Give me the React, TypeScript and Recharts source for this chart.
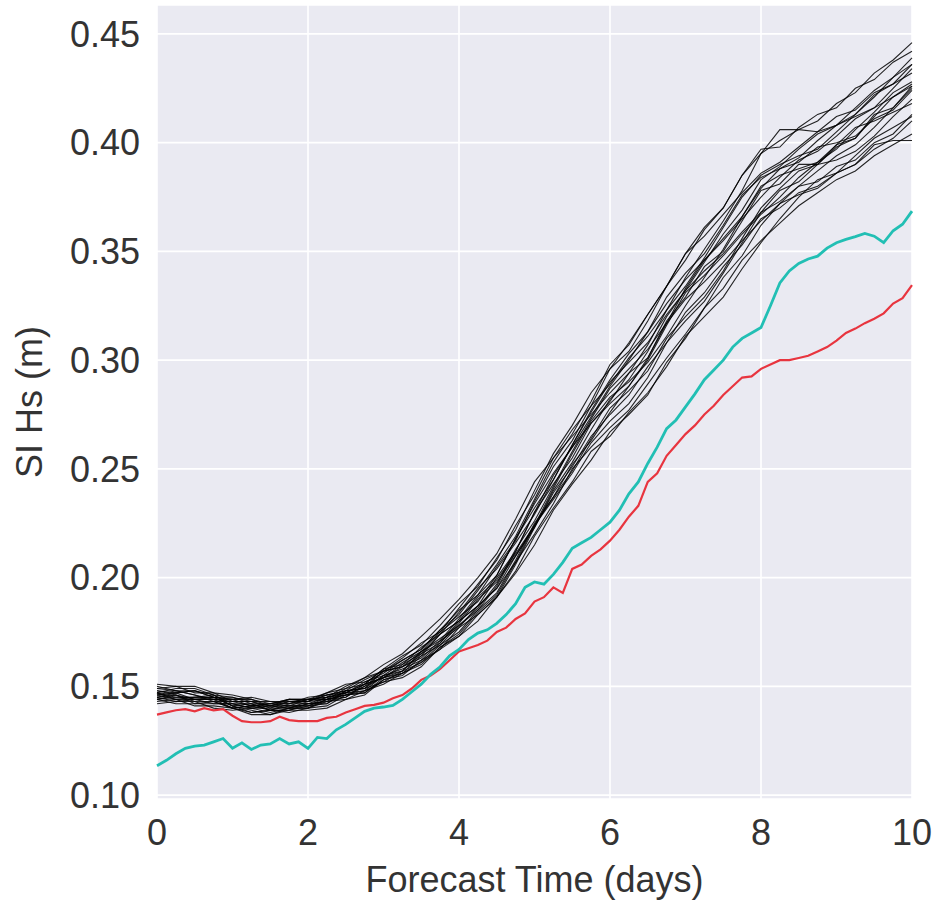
import { CartesianGrid, Line, LineChart, XAxis, YAxis } from "recharts";

// Forecast skill (SI of Hs) vs lead time: ensemble members (black) + two reference runs.

const W = 936;
const H = 902;
const FONT = '"Liberation Sans", Arial, sans-serif';
const INK = "#333333";

const xTicks = [0, 2, 4, 6, 8, 10];
const yTicks = [0.1, 0.15, 0.2, 0.25, 0.3, 0.35, 0.4, 0.45];

// 3-hourly lead times (step 0.125 day)
const redRun = [
	0.137, 0.138, 0.139, 0.1395, 0.1385, 0.14, 0.139, 0.1395, 0.1365, 0.134,
	0.1335, 0.1335, 0.134, 0.136, 0.1345, 0.134, 0.134, 0.134, 0.1355, 0.136,
	0.138, 0.1395, 0.141, 0.1415, 0.1425, 0.1445, 0.146, 0.149, 0.153, 0.155,
	0.158, 0.162, 0.166, 0.1675, 0.169, 0.171, 0.175, 0.177, 0.181, 0.1835,
	0.189, 0.191, 0.1955, 0.193, 0.204, 0.206, 0.21, 0.213, 0.217, 0.222,
	0.228, 0.233, 0.244, 0.248, 0.256, 0.261, 0.266, 0.27, 0.275, 0.279,
	0.284, 0.288, 0.292, 0.2925, 0.296, 0.298, 0.3, 0.3, 0.301, 0.302,
	0.304, 0.306, 0.309, 0.3125, 0.3145, 0.317, 0.319, 0.3215, 0.326, 0.3285,
	0.3345,
];

const cyanRun = [
	0.1135, 0.116, 0.119, 0.1215, 0.1225, 0.123, 0.1245, 0.126, 0.1215, 0.124,
	0.121, 0.123, 0.1235, 0.126, 0.1235, 0.1245, 0.1215, 0.1265, 0.126, 0.13,
	0.1325, 0.1355, 0.1385, 0.14, 0.1405, 0.1412, 0.144, 0.1475, 0.151, 0.1555,
	0.159, 0.164, 0.167, 0.1715, 0.1745, 0.176, 0.179, 0.183, 0.188, 0.1955,
	0.198, 0.197, 0.2015, 0.207, 0.2135, 0.216, 0.2185, 0.222, 0.2255, 0.231,
	0.2385, 0.244, 0.2525, 0.26, 0.2685, 0.2725, 0.2785, 0.2845, 0.291, 0.2955,
	0.3, 0.306, 0.31, 0.3125, 0.315, 0.325, 0.3355, 0.341, 0.3445, 0.3465,
	0.3478, 0.3515, 0.354, 0.3555, 0.3568, 0.3583, 0.357, 0.354, 0.3595, 0.3625,
	0.3685,
];

// ensemble members, 6-hourly lead times (step 0.25 day)
const m01 = [0.149, 0.150, 0.147, 0.147, 0.143, 0.143, 0.143, 0.143, 0.143, 0.146, 0.148, 0.153, 0.157, 0.162, 0.167, 0.176, 0.185, 0.192, 0.205, 0.217, 0.235, 0.251, 0.263, 0.279, 0.296, 0.304, 0.318, 0.334, 0.346, 0.360, 0.370, 0.385, 0.395, 0.401, 0.406, 0.410, 0.418, 0.423, 0.432, 0.438, 0.446];
const m02 = [0.143, 0.144, 0.141, 0.141, 0.140, 0.137, 0.137, 0.139, 0.139, 0.140, 0.144, 0.148, 0.151, 0.156, 0.160, 0.168, 0.174, 0.184, 0.192, 0.207, 0.220, 0.234, 0.250, 0.260, 0.269, 0.277, 0.289, 0.301, 0.312, 0.324, 0.333, 0.346, 0.355, 0.363, 0.371, 0.377, 0.383, 0.387, 0.394, 0.399, 0.404];
const m03 = [0.151, 0.150, 0.150, 0.147, 0.146, 0.144, 0.142, 0.144, 0.144, 0.145, 0.147, 0.151, 0.154, 0.159, 0.163, 0.171, 0.177, 0.187, 0.195, 0.210, 0.223, 0.239, 0.251, 0.265, 0.275, 0.284, 0.297, 0.308, 0.322, 0.331, 0.343, 0.353, 0.365, 0.370, 0.377, 0.380, 0.386, 0.390, 0.397, 0.402, 0.410];
const m04 = [0.142, 0.143, 0.143, 0.140, 0.139, 0.140, 0.138, 0.140, 0.142, 0.145, 0.147, 0.152, 0.156, 0.162, 0.167, 0.176, 0.183, 0.194, 0.206, 0.219, 0.236, 0.253, 0.266, 0.281, 0.298, 0.307, 0.321, 0.334, 0.349, 0.361, 0.370, 0.385, 0.397, 0.398, 0.407, 0.413, 0.416, 0.425, 0.429, 0.437, 0.442];
const m05 = [0.147, 0.145, 0.145, 0.146, 0.141, 0.142, 0.139, 0.142, 0.142, 0.142, 0.148, 0.149, 0.157, 0.159, 0.164, 0.174, 0.180, 0.187, 0.200, 0.212, 0.230, 0.243, 0.255, 0.271, 0.281, 0.294, 0.301, 0.318, 0.329, 0.343, 0.350, 0.364, 0.378, 0.381, 0.390, 0.390, 0.399, 0.402, 0.413, 0.416, 0.425];
const m06 = [0.148, 0.147, 0.148, 0.146, 0.142, 0.140, 0.141, 0.141, 0.141, 0.145, 0.150, 0.154, 0.160, 0.165, 0.173, 0.181, 0.190, 0.200, 0.211, 0.227, 0.244, 0.255, 0.265, 0.275, 0.285, 0.294, 0.307, 0.323, 0.338, 0.351, 0.364, 0.378, 0.395, 0.406, 0.406, 0.405, 0.408, 0.412, 0.416, 0.421, 0.426];
const m07 = [0.145, 0.146, 0.143, 0.143, 0.143, 0.141, 0.142, 0.142, 0.145, 0.146, 0.147, 0.148, 0.152, 0.157, 0.161, 0.167, 0.177, 0.183, 0.191, 0.206, 0.223, 0.240, 0.253, 0.268, 0.282, 0.291, 0.304, 0.320, 0.332, 0.345, 0.358, 0.369, 0.383, 0.389, 0.397, 0.404, 0.408, 0.416, 0.424, 0.430, 0.439];
const m08 = [0.146, 0.148, 0.146, 0.143, 0.140, 0.141, 0.139, 0.138, 0.140, 0.143, 0.144, 0.146, 0.153, 0.155, 0.162, 0.167, 0.173, 0.183, 0.191, 0.203, 0.219, 0.232, 0.244, 0.258, 0.265, 0.276, 0.285, 0.297, 0.311, 0.320, 0.329, 0.342, 0.354, 0.365, 0.375, 0.383, 0.386, 0.390, 0.399, 0.401, 0.401];
const m09 = [0.149, 0.148, 0.146, 0.144, 0.144, 0.144, 0.141, 0.143, 0.142, 0.143, 0.145, 0.150, 0.154, 0.160, 0.168, 0.174, 0.184, 0.195, 0.204, 0.216, 0.229, 0.245, 0.261, 0.276, 0.290, 0.299, 0.308, 0.321, 0.332, 0.341, 0.349, 0.359, 0.368, 0.373, 0.380, 0.387, 0.394, 0.399, 0.407, 0.416, 0.426];
const m10 = [0.144, 0.142, 0.142, 0.143, 0.140, 0.138, 0.139, 0.139, 0.141, 0.144, 0.149, 0.151, 0.158, 0.160, 0.165, 0.170, 0.179, 0.190, 0.198, 0.210, 0.224, 0.241, 0.257, 0.272, 0.283, 0.290, 0.299, 0.311, 0.325, 0.338, 0.351, 0.366, 0.379, 0.388, 0.393, 0.401, 0.408, 0.413, 0.421, 0.430, 0.436];
const m11 = [0.147, 0.149, 0.149, 0.146, 0.145, 0.143, 0.140, 0.140, 0.143, 0.146, 0.148, 0.149, 0.155, 0.157, 0.166, 0.172, 0.178, 0.185, 0.196, 0.212, 0.230, 0.247, 0.260, 0.271, 0.280, 0.288, 0.300, 0.316, 0.331, 0.339, 0.348, 0.358, 0.367, 0.375, 0.384, 0.391, 0.399, 0.407, 0.410, 0.414, 0.418];
const m12 = [0.144, 0.145, 0.145, 0.145, 0.141, 0.139, 0.137, 0.140, 0.140, 0.141, 0.146, 0.150, 0.157, 0.163, 0.170, 0.175, 0.182, 0.189, 0.201, 0.218, 0.234, 0.248, 0.260, 0.274, 0.288, 0.300, 0.313, 0.326, 0.337, 0.346, 0.355, 0.365, 0.375, 0.384, 0.392, 0.396, 0.403, 0.411, 0.416, 0.425, 0.434];
const m13 = [0.150, 0.148, 0.148, 0.145, 0.144, 0.145, 0.143, 0.142, 0.144, 0.147, 0.151, 0.152, 0.155, 0.158, 0.162, 0.170, 0.180, 0.191, 0.199, 0.211, 0.224, 0.237, 0.252, 0.263, 0.276, 0.288, 0.301, 0.317, 0.328, 0.336, 0.345, 0.355, 0.364, 0.372, 0.376, 0.379, 0.386, 0.394, 0.402, 0.407, 0.412];
const m14 = [0.146, 0.144, 0.144, 0.144, 0.143, 0.143, 0.141, 0.144, 0.144, 0.145, 0.146, 0.148, 0.155, 0.161, 0.166, 0.175, 0.186, 0.197, 0.208, 0.224, 0.238, 0.255, 0.268, 0.279, 0.289, 0.301, 0.311, 0.323, 0.334, 0.347, 0.361, 0.375, 0.385, 0.390, 0.394, 0.397, 0.405, 0.413, 0.422, 0.427, 0.432];
const m15 = [0.145, 0.147, 0.144, 0.142, 0.142, 0.140, 0.140, 0.143, 0.143, 0.144, 0.146, 0.147, 0.153, 0.156, 0.164, 0.169, 0.175, 0.185, 0.193, 0.208, 0.225, 0.237, 0.249, 0.264, 0.278, 0.286, 0.295, 0.310, 0.320, 0.329, 0.341, 0.356, 0.370, 0.379, 0.387, 0.390, 0.392, 0.396, 0.403, 0.412, 0.420];
const m16 = [0.148, 0.146, 0.144, 0.145, 0.145, 0.142, 0.142, 0.141, 0.141, 0.142, 0.147, 0.151, 0.154, 0.156, 0.161, 0.169, 0.178, 0.186, 0.197, 0.213, 0.226, 0.242, 0.258, 0.273, 0.287, 0.296, 0.305, 0.317, 0.333, 0.346, 0.356, 0.366, 0.380, 0.385, 0.388, 0.391, 0.397, 0.406, 0.414, 0.423, 0.428];
const m17 = [0.147, 0.144, 0.145, 0.145, 0.141, 0.138, 0.139, 0.141, 0.144, 0.144, 0.145, 0.151, 0.158, 0.164, 0.169, 0.178, 0.188, 0.196, 0.209, 0.222, 0.240, 0.257, 0.270, 0.285, 0.296, 0.308, 0.321, 0.334, 0.349, 0.357, 0.367, 0.377, 0.386, 0.391, 0.398, 0.405, 0.412, 0.415, 0.423, 0.427, 0.436];
const m18 = [0.144, 0.146, 0.142, 0.142, 0.142, 0.142, 0.139, 0.139, 0.142, 0.143, 0.148, 0.149, 0.152, 0.154, 0.159, 0.168, 0.173, 0.180, 0.191, 0.202, 0.215, 0.231, 0.243, 0.254, 0.267, 0.275, 0.284, 0.299, 0.310, 0.324, 0.338, 0.348, 0.362, 0.372, 0.380, 0.382, 0.389, 0.392, 0.400, 0.404, 0.413];
const m19 = [0.146, 0.147, 0.148, 0.145, 0.144, 0.141, 0.142, 0.144, 0.143, 0.147, 0.149, 0.154, 0.157, 0.159, 0.166, 0.171, 0.181, 0.192, 0.201, 0.218, 0.232, 0.245, 0.261, 0.277, 0.291, 0.303, 0.313, 0.329, 0.340, 0.349, 0.362, 0.376, 0.384, 0.388, 0.391, 0.398, 0.400, 0.403, 0.411, 0.415, 0.424];
const m20 = [0.145, 0.143, 0.144, 0.144, 0.140, 0.141, 0.141, 0.140, 0.140, 0.144, 0.146, 0.147, 0.154, 0.157, 0.165, 0.174, 0.180, 0.187, 0.195, 0.207, 0.224, 0.236, 0.248, 0.262, 0.272, 0.280, 0.292, 0.308, 0.318, 0.327, 0.340, 0.354, 0.368, 0.378, 0.382, 0.390, 0.398, 0.402, 0.412, 0.421, 0.427];

const members = [m01, m02, m03, m04, m05, m06, m07, m08, m09, m10, m11, m12, m13, m14, m15, m16, m17, m18, m19, m20];

const toSeries = (vals: number[], step: number) => vals.map((v, i) => ({ t: i * step, v }));

const tickStyle = { fontSize: 36, fill: INK, fontFamily: FONT };

function YLabel(props: any) {
	const vb = props.viewBox ?? { x: 0, y: 5, width: 157, height: 794 };
	const x = vb.x + 42;
	const y = vb.y + vb.height / 2;
	return (
		<text x={x} y={y} transform={`rotate(-90 ${x} ${y})`} textAnchor="middle" fontSize={36} fill={INK} fontFamily={FONT}>
			SI Hs (m)
		</text>
	);
}

export default function App() {
	return (
		<div style={{ position: "absolute", left: 0, top: 0, width: W, height: H, background: "#fff" }}>
			<LineChart width={W} height={H} margin={{ top: 5, right: 24, bottom: 0, left: 0 }}>
				<CartesianGrid fill="#EAEAF2" stroke="#ffffff" strokeWidth={1.6} />
				<XAxis
					type="number"
					dataKey="t"
					domain={[0, 10]}
					ticks={xTicks}
					axisLine={false}
					tickLine={false}
					height={103}
					tickMargin={14}
					tick={tickStyle}
					label={{ value: "Forecast Time (days)", position: "insideBottom", offset: 10, fontSize: 36, fill: INK, fontFamily: FONT }}
				/>
				<YAxis
					type="number"
					domain={[0.0982, 0.4633]}
					allowDataOverflow
					ticks={yTicks}
					tickFormatter={(v: number) => v.toFixed(2)}
					width={157}
					axisLine={false}
					tickLine={false}
					tickMargin={11}
					tick={tickStyle}
					label={<YLabel />}
				/>
				{members.map((m, i) => (
					<Line
						key={i}
						data={toSeries(m, 0.25)}
						dataKey="v"
						stroke="#000"
						strokeOpacity={0.85}
						strokeWidth={1.1}
						dot={false}
						isAnimationActive={false}
					/>
				))}
				<Line data={toSeries(redRun, 0.125)} dataKey="v" stroke="#e8353f" strokeWidth={2.2} dot={false} isAnimationActive={false} />
				<Line data={toSeries(cyanRun, 0.125)} dataKey="v" stroke="#22bfb4" strokeWidth={2.8} dot={false} isAnimationActive={false} />
			</LineChart>
		</div>
	);
}
